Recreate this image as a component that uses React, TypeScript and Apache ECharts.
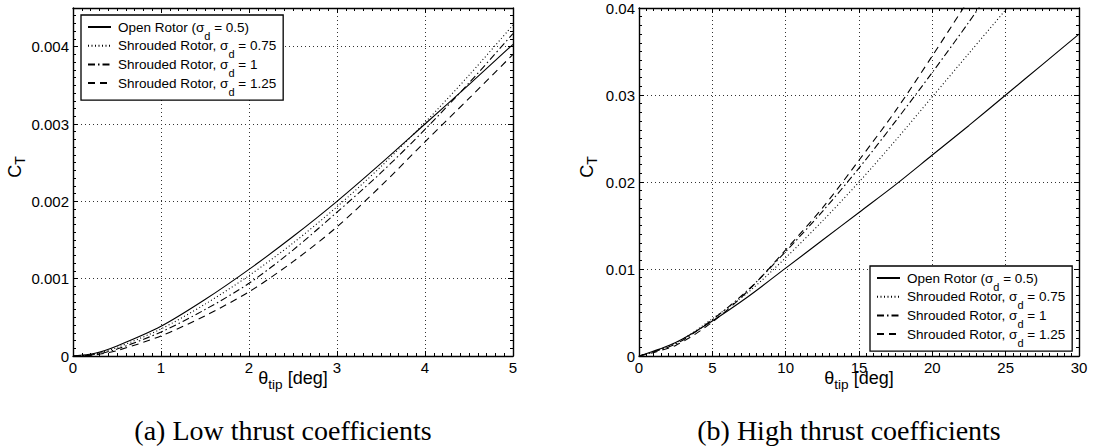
import React, { useEffect, useRef } from "react";
import * as echarts from "echarts";

// ---------- data ----------
const seriesNames = [
  "Open Rotor (σd = 0.5)",
  "Shrouded Rotor, σd = 0.75",
  "Shrouded Rotor, σd = 1",
  "Shrouded Rotor, σd = 1.25",
];

// (a) low thrust coefficients
const lowTheta = [0, 0.25, 0.5, 1, 1.5, 2, 2.5, 3, 3.5, 4, 4.5, 5];
const lowOpen = [0, 0.000035, 0.00013, 0.000384, 0.00073, 0.00112, 0.001545, 0.002, 0.00249, 0.003, 0.00351, 0.00403];
const lowShroud075 = [0, 0.000025, 0.00011, 0.00035, 0.00067, 0.00104, 0.00146, 0.00193, 0.00245, 0.00302, 0.00363, 0.00428];
const lowShroud1 = [0, 0.00002, 0.00009, 0.00031, 0.0006, 0.00094, 0.00137, 0.00186, 0.00237, 0.00293, 0.00353, 0.00417];
const lowShroud125 = [0, 0.000015, 0.00007, 0.00026, 0.00052, 0.00083, 0.00122, 0.00167, 0.0022, 0.00277, 0.00333, 0.0039];

// (b) high thrust coefficients
const highTheta = [0, 2.5, 5, 7.5, 10, 12.5, 15, 17.5, 20, 22.5, 25, 27.5, 30];
const highOpen = [0, 0.00155, 0.00403, 0.0069, 0.0101, 0.0133, 0.0165, 0.0197, 0.0231, 0.0265, 0.03, 0.0335, 0.037];
const highShroud075 = [0, 0.00146, 0.00428, 0.0074, 0.0113, 0.0155, 0.02, 0.0248, 0.0298, 0.0348, 0.0398, 0.0449];
const highShroud1 = [0, 0.00137, 0.00417, 0.0077, 0.012, 0.0166, 0.0216, 0.027, 0.0326, 0.0384, 0.0445];
const highShroud125 = [0, 0.00122, 0.0039, 0.0076, 0.0122, 0.017, 0.0225, 0.0282, 0.0345, 0.041];

const lowXTicks = { min: 0, max: 5, interval: 1 };
const lowYTicks = { min: 0, max: 0.0045, interval: 0.001, minor: 0.0001 };
const highXTicks = { min: 0, max: 30, interval: 5 };
const highYTicks = { min: 0, max: 0.04, interval: 0.01 };

const captions = ["(a) Low thrust coefficients", "(b) High thrust coefficients"];

// ---------- styling ----------
const SANS = '"Liberation Sans", Arial, Helvetica, sans-serif';
const SERIF = '"Liberation Serif", "Times New Roman", serif';
const lineTypes: any[] = ["solid", [1, 2.5], [7, 3, 1.5, 3], [7, 5]];

const pairs = (xs: number[], ys: number[]) => ys.map((y, i) => [xs[i], y]);

const frameLine = { show: true, onZero: false, lineStyle: { color: "#000", width: 1.4 } };
const gridLine = { show: true, lineStyle: { color: "#333", width: 1, type: [1, 3] } };
const tickLabel = { color: "#000", fontSize: 15, fontFamily: SANS };

function xAxesFor(gridIndex: number, t: any) {
  const base = {
    type: "value",
    gridIndex,
    min: t.min,
    max: t.max,
    interval: t.interval,
    axisLine: frameLine,
    axisTick: { show: true, inside: true, length: 5, lineStyle: { color: "#000", width: 1 } },
    minorTick: { show: true, splitNumber: 10, length: 3, lineStyle: { color: "#000", width: 1 } },
  };
  return [
    {
      ...base,
      position: "bottom",
      splitLine: gridLine,
      axisLabel: { ...tickLabel, margin: 4 },
      name: "θ{s|tip} [deg]",
      nameLocation: "middle",
      nameGap: 15,
      nameMoveOverlap: false,
      nameTextStyle: {
        color: "#000",
        fontSize: 18,
        lineHeight: 13,
        fontFamily: SANS,
        rich: {
          s: { fontSize: 13.6, lineHeight: 13, height: 0, verticalAlign: "bottom", fontFamily: SANS, color: "#000" },
        },
      },
    },
    { ...base, position: "top", splitLine: { show: false }, axisLabel: { show: false } },
  ];
}

function yName(nameGap: number) {
  return {
    name: "C{s|T}",
    nameLocation: "middle",
    nameGap,
    nameMoveOverlap: false,
    nameTextStyle: {
      color: "#000",
      fontSize: 18,
      lineHeight: 10,
      fontFamily: SANS,
      padding: [0, 0, 0, 30],
      rich: {
        s: { fontSize: 14, lineHeight: 10, height: 0, verticalAlign: "bottom", fontFamily: SANS, color: "#000" },
      },
    },
  };
}

function buildOption() {
  const xAxis = [...xAxesFor(0, lowXTicks), ...xAxesFor(1, highXTicks)];

  const majorTick = { show: true, inside: true, length: 5, lineStyle: { color: "#000", width: 1 } };
  const minorAxisTick = { show: true, inside: true, length: 3, lineStyle: { color: "#000", width: 1 } };
  const minorTick = { show: true, splitNumber: 10, length: 3, lineStyle: { color: "#000", width: 1 } };

  const yAxis: any[] = [
    {
      type: "value", gridIndex: 0, position: "left", min: lowYTicks.min, max: lowYTicks.max, interval: lowYTicks.interval,
      axisLine: frameLine, axisTick: majorTick, splitLine: gridLine,
      axisLabel: { ...tickLabel, margin: 4, showMaxLabel: false },
      ...yName(53),
    },
    {
      type: "value", gridIndex: 0, position: "left", min: lowYTicks.min, max: lowYTicks.max, interval: lowYTicks.minor,
      axisLine: { show: false, onZero: false }, axisTick: minorAxisTick, splitLine: { show: false }, axisLabel: { show: false },
    },
    {
      type: "value", gridIndex: 0, position: "right", min: lowYTicks.min, max: lowYTicks.max, interval: lowYTicks.interval,
      axisLine: frameLine, axisTick: majorTick, splitLine: { show: false }, axisLabel: { show: false },
    },
    {
      type: "value", gridIndex: 0, position: "right", min: lowYTicks.min, max: lowYTicks.max, interval: lowYTicks.minor,
      axisLine: { show: false, onZero: false }, axisTick: minorAxisTick, splitLine: { show: false }, axisLabel: { show: false },
    },
    {
      type: "value", gridIndex: 1, position: "left", min: highYTicks.min, max: highYTicks.max, interval: highYTicks.interval,
      axisLine: frameLine, axisTick: majorTick, minorTick,
      splitLine: gridLine, axisLabel: { ...tickLabel, margin: 4 },
      ...yName(47),
    },
    {
      type: "value", gridIndex: 1, position: "right", min: highYTicks.min, max: highYTicks.max, interval: highYTicks.interval,
      axisLine: frameLine, axisTick: majorTick, minorTick,
      splitLine: { show: false }, axisLabel: { show: false },
    },
  ];

  const lowData = [lowOpen, lowShroud075, lowShroud1, lowShroud125];
  const highData = [highOpen, highShroud075, highShroud1, highShroud125];

  const mkSeries = (values: number[], xs: number[], i: number, xIdx: number, yIdx: number) => ({
    type: "line",
    name: seriesNames[i],
    xAxisIndex: xIdx,
    yAxisIndex: yIdx,
    data: pairs(xs, values),
    symbol: "none",
    smooth: 0.3,
    clip: true,
    itemStyle: { color: "#000" },
    lineStyle: { color: "#000", width: 1.1, type: lineTypes[i] },
    z: 3,
  });

  const series = [
    ...lowData.map((v, i) => mkSeries(v, lowTheta, i, 0, 0)),
    ...highData.map((v, i) => mkSeries(v, highTheta, i, 2, 4)),
  ];

  const legendBase = {
    orient: "vertical",
    data: seriesNames,
    itemWidth: 23,
    itemHeight: 14,
    itemGap: -3.8,
    padding: [3.5, 7, 3, 6],
    backgroundColor: "#fff",
    borderColor: "#000",
    borderWidth: 1.3,
    borderRadius: 0,
    selectedMode: false,
    itemStyle: { opacity: 0, borderWidth: 0 },
    formatter: (name: string) => name.replace("σd", "σ{sub|d}"),
    textStyle: {
      color: "#000",
      fontSize: 13.5,
      lineHeight: 17,
      fontFamily: SANS,
      padding: [0, 0, 0, 2],
      rich: {
        sub: { fontSize: 11, lineHeight: 17, height: 0, verticalAlign: "bottom", fontFamily: SANS, color: "#000" },
      },
    },
    z: 10,
  };

  return {
    animation: false,
    backgroundColor: "#fff",
    grid: [
      { left: 73, top: 8, width: 440, height: 348, containLabel: false, outerBoundsMode: "none" },
      { left: 639, top: 8, width: 440, height: 348, containLabel: false, outerBoundsMode: "none" },
    ],
    xAxis,
    yAxis,
    series,
    legend: [
      { ...legendBase, left: 81, top: 15 },
      { ...legendBase, left: 870, top: 266 },
    ],
    graphic: [
      {
        type: "text", x: 283, y: 430,
        style: { text: captions[0], fontSize: 28, fontFamily: SERIF, fill: "#000", align: "center", verticalAlign: "middle" },
      },
      {
        type: "text", x: 849, y: 430,
        style: { text: captions[1], fontSize: 28, fontFamily: SERIF, fill: "#000", align: "center", verticalAlign: "middle" },
      },
    ],
  };
}

export default function App() {
  const ref = useRef<HTMLDivElement>(null);
  useEffect(() => {
    document.body.style.margin = "0";
    const chart = echarts.init(ref.current!, null, { renderer: "svg" });
    chart.setOption(buildOption() as any);
    return () => chart.dispose();
  }, []);
  return <div ref={ref} style={{ width: 1094, height: 446 }} />;
}
